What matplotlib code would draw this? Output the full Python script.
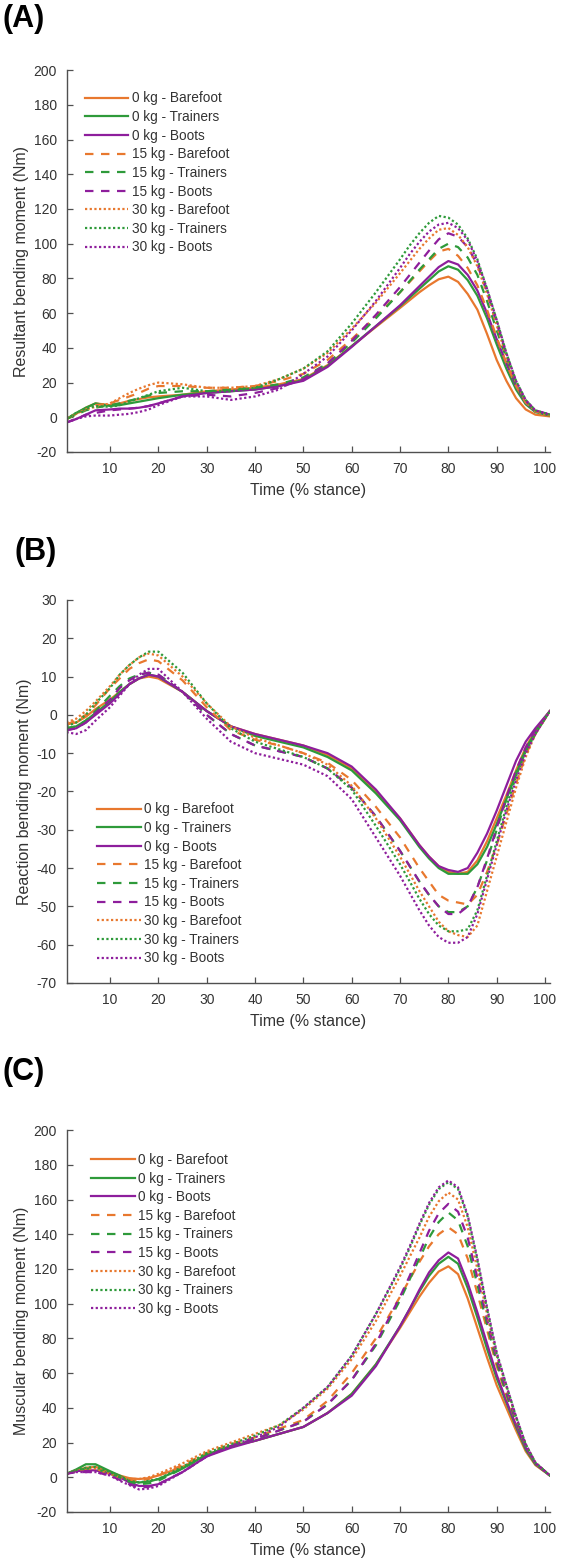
import matplotlib
matplotlib.use("Agg")
import matplotlib.pyplot as plt

plt.rcParams["font.family"] = ["Liberation Sans", "DejaVu Sans"]
plt.rcParams["axes.unicode_minus"] = False

stance = [1, 3, 5, 7, 10, 12, 14, 16, 18, 20, 25, 30, 35, 40, 45,
          50, 55, 60, 65, 70, 72, 74, 76, 78, 80,
          82, 84, 86, 88, 90, 92, 94, 96, 98, 101]

labels = ["0 kg - Barefoot", "0 kg - Trainers", "0 kg - Boots",
          "15 kg - Barefoot", "15 kg - Trainers", "15 kg - Boots",
          "30 kg - Barefoot", "30 kg - Trainers", "30 kg - Boots"]

# --- (A) resultant bending moment (Nm) ---
res_0_barefoot = [-1, 2, 5.5, 8, 7, 8, 9.5, 10.5, 11.5, 12, 13, 15, 16, 17, 19,
                  22, 30, 41, 52, 63, 67.5, 72, 76, 79.5, 81,
                  78, 71, 62, 48, 33, 21, 11, 4.5, 1.5, 0.5]
res_0_trainers = [-1, 2.5, 5.5, 8, 6.5, 7, 8, 9, 10, 11, 13, 14, 15, 16, 18,
                  21.5, 29.5, 41, 52.5, 64, 69, 74, 79, 84, 87,
                  85, 79, 70, 57, 42, 28, 16, 7.5, 3, 1]
res_0_boots = [-3, -1, 1.5, 4, 4.5, 5, 5, 5.5, 6.5, 8, 12, 14, 15, 16, 18,
               21, 29, 40.5, 52.5, 64.5, 70, 75.5, 81, 86.5, 90,
               88, 82, 73, 60, 45, 31, 18, 8.5, 3.5, 1.5]
res_15_barefoot = [-1, 2, 4.5, 7, 8, 10, 12, 14, 16.5, 18, 18, 17, 17, 18, 21,
                   25, 33, 45, 58, 72, 78, 84, 90, 95.5, 97,
                   93, 86, 76, 62, 46, 31, 18, 8.5, 3.5, 1]
res_15_trainers = [-1, 1.5, 4, 5.5, 7, 8, 9.5, 11, 12.5, 14, 15, 15, 16, 17, 19,
                   23, 31, 43, 57, 72, 78.5, 85, 91, 97, 100,
                   98, 92, 82, 67, 50, 34, 19, 9, 3.5, 1.5]
res_15_boots = [-3, -1, 1.5, 2.5, 4, 4.5, 5, 5.5, 6.5, 8, 12, 13, 12, 14, 17,
                22, 31, 44, 59, 75, 82, 89, 96, 102.5, 106,
                104, 98, 88, 72, 54, 36, 20, 9.5, 4, 1.5]
res_30_barefoot = [-1, 2, 4.5, 6, 8, 11, 14, 16.5, 18.5, 20, 19, 17, 17, 18, 22,
                   28, 37, 51, 66, 83, 90, 97, 103, 108, 109,
                   105, 98, 87, 71, 53, 35, 20, 9, 3.5, 1]
res_30_trainers = [-1, 2.5, 5, 6.5, 6, 7, 9, 11, 13, 15, 17, 15, 15, 17, 22,
                   28, 38, 54, 72, 91, 99, 106, 112, 116, 115,
                   111, 103, 91, 74, 56, 37, 21, 10, 4, 1.5]
res_30_boots = [-3, -1, 0.5, 1, 1, 1.5, 2, 3, 4.5, 7, 12, 12, 10, 12, 16,
                25, 35, 50, 67, 86, 94, 101, 107, 111, 112,
                109, 102, 90, 74, 56, 37, 21, 10, 4, 1.5]

# --- (B) reaction bending moment (Nm) ---
rea_0_barefoot = [-2.5, -2, -0.5, 1.5, 4, 6, 8, 9.5, 10, 9.5, 6, 1, -3, -5, -6.5,
                  -8, -10.5, -14, -20, -27, -30.5, -34, -37, -39.5, -41,
                  -41.5, -41, -38, -33, -27, -21, -14.5, -8.5, -4, 1]
rea_0_trainers = [-3.5, -3, -1.5, 0.5, 3.5, 6, 8, 9.5, 10.5, 10, 6, 1, -3, -5.5, -7,
                  -8.5, -11, -14.5, -20.5, -27.5, -31, -34.5, -37.5, -40, -41.5,
                  -41.5, -41.5, -39, -34.5, -28.5, -22, -15.5, -9, -4.5, 1]
rea_0_boots = [-4, -3.5, -2, 0, 3, 5.5, 8, 9.5, 10.5, 10, 6, 1, -3, -5, -6.5,
               -8, -10, -13.5, -19.5, -27, -30.5, -34, -37, -39.5, -40.5,
               -41, -40, -36, -31, -25, -18.5, -12, -7, -3.5, 1]
rea_15_barefoot = [-2.5, -1.5, 0, 2.5, 7, 9.5, 12, 13.5, 14.5, 14, 9, 2, -4, -6.5, -8,
                   -10, -12.5, -17, -24, -32, -36, -40, -43.5, -47, -48.5,
                   -49, -49.5, -47, -41, -34, -26, -18, -10.5, -5, 1]
rea_15_trainers = [-3.5, -3, -1.5, 1, 5, 7.5, 9.5, 10.5, 11, 10.5, 6, 0, -5, -8, -9.5,
                   -11, -14, -19, -26.5, -35.5, -39.5, -43.5, -47, -50, -51.5,
                   -51.5, -50, -45, -38, -30, -22, -15, -9, -4.5, 1]
rea_15_boots = [-4, -3.5, -2, 0.5, 4, 7, 9, 10.5, 11, 10.5, 6, 0, -5, -8, -9.5,
                -11, -14, -19, -26.5, -35.5, -39.5, -43.5, -47, -50, -52,
                -52, -50, -45, -37.5, -29.5, -21.5, -14.5, -8.5, -4, 1]
rea_30_barefoot = [-2, -1, 1, 3.5, 7.5, 10.5, 13, 15, 16, 15.5, 10, 3, -3, -6, -8,
                   -10, -13, -18.5, -27, -37, -41.5, -46, -50, -54, -56.5,
                   -57.5, -58, -55, -46, -37, -28, -19, -11, -5, 1]
rea_30_trainers = [-3, -2, 0, 3, 7, 10.5, 13, 15, 16.5, 16.5, 11, 3, -3.5, -7, -9,
                   -11, -14, -19.5, -29, -39, -43.5, -48, -52, -55, -56.5,
                   -56.5, -56, -51, -42, -33, -24, -16, -9.5, -5, 1]
rea_30_boots = [-4.5, -5, -4, -1.5, 2, 5, 8, 10.5, 12, 12, 6, -1, -7, -10, -11.5,
                -13, -16, -22, -32, -42, -46.5, -51, -55, -58, -59.5,
                -59.5, -58, -52, -43, -34, -25, -17, -10, -5, 1]

# --- (C) muscular bending moment (Nm) ---
mus_0_barefoot = [2, 4, 5.5, 6, 3, 1, -0.5, -1, -0.5, 1, 6, 13, 18, 21, 25,
                  29, 37, 48, 65, 86, 95, 104, 112, 118.5, 121.5,
                  117, 103, 86, 69, 53, 40, 27, 15, 7, 1]
mus_0_trainers = [2, 4.5, 7.5, 7.5, 3.5, 1, -2, -3, -2.5, -1, 5, 13, 18, 21, 25,
                  29, 37, 48, 65, 87, 97, 107, 116, 123, 127,
                  123, 109, 92, 74, 57, 43, 29, 16, 7.5, 1]
mus_0_boots = [2, 3.5, 4, 4, 2, 0, -3, -5, -5, -4, 3, 12, 17, 21, 25,
               29, 37, 47, 64, 87, 97, 108, 118, 125, 129.5,
               126, 112, 95, 77, 59, 44, 30, 17, 8, 1]
mus_15_barefoot = [2, 3.5, 5, 5, 2, 0, -1.5, -2, -1, 1, 7, 14, 19, 23, 28,
                   33, 44, 60, 80, 104, 114, 124, 133, 140, 144,
                   140, 126, 106, 85, 64, 47, 32, 18, 8, 1]
mus_15_trainers = [2, 4, 5, 5, 2, 0, -2.5, -4, -3.5, -2, 5, 13, 18, 22, 27,
                   32, 42, 56, 76, 102, 114, 126, 138, 147, 152.5,
                   148, 133, 111, 88, 66, 48, 32, 18, 8, 1]
mus_15_boots = [2, 3, 3, 3, 1, -1.5, -4, -6, -5.5, -4, 3, 12, 18, 22, 27,
                32, 42, 56, 77, 104, 116, 129, 142, 152, 157.5,
                153, 138, 115, 91, 68, 50, 33, 18.5, 8, 1]
mus_30_barefoot = [2, 4, 5, 5, 2, 0, -1, -1, 0, 2, 8, 15, 20, 25, 30,
                   39, 51, 68, 90, 116, 127, 138, 150, 159, 164,
                   160, 144, 120, 94, 70, 52, 34, 19, 8.5, 1]
mus_30_trainers = [2, 4, 5.5, 6, 3, 0, -2, -3, -2, -1, 6, 14, 19, 24, 30,
                   40, 52, 70, 94, 120, 132, 145, 157, 166, 170,
                   166, 150, 125, 97, 71, 53, 35, 19, 8.5, 1]
mus_30_boots = [2, 3, 3, 3, 1, -2, -4.5, -7, -6.5, -5, 3, 12, 18, 23, 29,
                40, 52, 70, 94, 121, 133, 146, 158, 167, 171,
                167, 151, 126, 98, 72, 53, 35, 19, 8.5, 1]

orange = "#E8782E"
green = "#2E9A3A"
purple = "#8E1E9C"
colors = [orange, green, purple] * 3
styles = ["solid"] * 3 + [(0, (3.8, 3.4))] * 3 + [(0, (1, 1.1))] * 3

text_color = "#333333"
axis_color = "#505050"


def draw_panel(ax, curves, ylabel, yticks, legend_loc, legend_anchor):
    for y, color, ls, label in zip(curves, colors, styles, labels):
        ax.plot(stance, y, color=color, linestyle=ls, linewidth=1.6, label=label)

    ax.set_xlim(1, 101)
    ax.set_ylim(yticks[0], yticks[-1])
    ax.set_xticks(range(10, 101, 10))
    ax.set_yticks(yticks)
    ax.spines["top"].set_visible(False)
    ax.spines["right"].set_visible(False)
    for side in ["left", "bottom"]:
        ax.spines[side].set_color(axis_color)
        ax.spines[side].set_linewidth(1.0)
    ax.tick_params(direction="in", length=4, width=0.9, color=axis_color,
                   labelsize=10, labelcolor=text_color, pad=7)
    ax.set_xlabel("Time (% stance)", fontsize=11.5, color=text_color, labelpad=5)
    ax.set_ylabel(ylabel, fontsize=11.5, color=text_color, labelpad=3)

    ax.legend(loc=legend_loc, bbox_to_anchor=legend_anchor, frameon=False,
              fontsize=9.8, handlelength=3.2, handletextpad=0.25,
              labelspacing=0.34, borderpad=0, borderaxespad=0,
              labelcolor=text_color)


fig = plt.figure(figsize=(5.7, 15.64), dpi=100)

ax_a = fig.add_axes([0.1167, 0.7110, 0.848, 0.2442])
ax_b = fig.add_axes([0.1167, 0.3715, 0.848, 0.2449])
ax_c = fig.add_axes([0.1167, 0.03325, 0.848, 0.2442])

draw_panel(ax_a,
           [res_0_barefoot, res_0_trainers, res_0_boots,
            res_15_barefoot, res_15_trainers, res_15_boots,
            res_30_barefoot, res_30_trainers, res_30_boots],
           "Resultant bending moment (Nm)", list(range(-20, 201, 20)),
           "upper left", (0.038, 0.944))

draw_panel(ax_b,
           [rea_0_barefoot, rea_0_trainers, rea_0_boots,
            rea_15_barefoot, rea_15_trainers, rea_15_boots,
            rea_30_barefoot, rea_30_trainers, rea_30_boots],
           "Reaction bending moment (Nm)", list(range(-70, 31, 10)),
           "lower left", (0.063, 0.046))

draw_panel(ax_c,
           [mus_0_barefoot, mus_0_trainers, mus_0_boots,
            mus_15_barefoot, mus_15_trainers, mus_15_boots,
            mus_30_barefoot, mus_30_trainers, mus_30_boots],
           "Muscular bending moment (Nm)", list(range(-20, 201, 20)),
           "upper left", (0.051, 0.94))

# panel letters
fig.text(2 / 570, 1 - 4 / 1564, "(A)", fontsize=22, fontweight="bold", va="top", ha="left")
fig.text(15 / 570, 1 - 537 / 1564, "(B)", fontsize=22, fontweight="bold", va="top", ha="left")
fig.text(2 / 570, 1 - 1057 / 1564, "(C)", fontsize=22, fontweight="bold", va="top", ha="left")

fig.savefig("out.png", dpi=100)
